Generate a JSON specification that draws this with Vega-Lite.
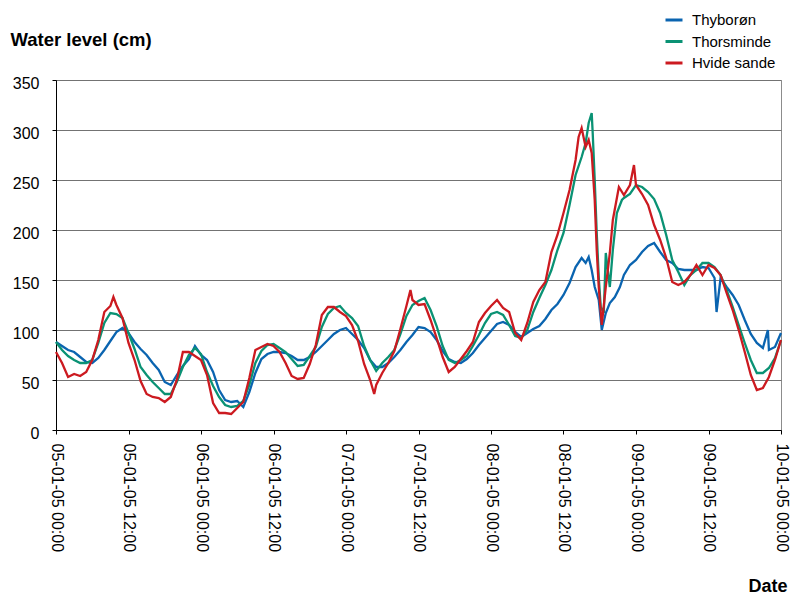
{
  "$schema": "https://vega.github.io/schema/vega-lite/v6.json",
  "width": 725,
  "height": 350,
  "autosize": {"type": "none"},
  "padding": {"left": 56, "top": 80, "right": 9, "bottom": 167},
  "background": "white",
  "config": {
    "font": "Liberation Sans",
    "view": {"stroke": "#8c8c8c", "strokeWidth": 1}
  },
  "data": {
    "values": [
      {"t": "2005-01-05T00:00", "Thyborøn": 88, "Thorsminde": 88, "Hvide sande": 78},
      {"t": "2005-01-05T01:00", "Thyborøn": 84, "Thorsminde": 80, "Hvide sande": 67},
      {"t": "2005-01-05T02:00", "Thyborøn": 80, "Thorsminde": 74, "Hvide sande": 53},
      {"t": "2005-01-05T03:00", "Thyborøn": 78, "Thorsminde": 70, "Hvide sande": 56},
      {"t": "2005-01-05T04:00", "Thyborøn": 73, "Thorsminde": 67, "Hvide sande": 54},
      {"t": "2005-01-05T05:00", "Thyborøn": 68, "Thorsminde": 67, "Hvide sande": 58},
      {"t": "2005-01-05T06:00", "Thyborøn": 67, "Thorsminde": 70, "Hvide sande": 70},
      {"t": "2005-01-05T07:00", "Thyborøn": 72, "Thorsminde": 87, "Hvide sande": 90},
      {"t": "2005-01-05T08:00", "Thyborøn": 80, "Thorsminde": 107, "Hvide sande": 118},
      {"t": "2005-01-05T09:00", "Thyborøn": 89, "Thorsminde": 117, "Hvide sande": 124},
      {"t": "2005-01-05T09:30", "Hvide sande": 133},
      {"t": "2005-01-05T10:00", "Thyborøn": 98, "Thorsminde": 116, "Hvide sande": 125},
      {"t": "2005-01-05T11:00", "Thyborøn": 102, "Thorsminde": 112, "Hvide sande": 112},
      {"t": "2005-01-05T12:00", "Thyborøn": 97, "Thorsminde": 97, "Hvide sande": 87},
      {"t": "2005-01-05T13:00", "Thyborøn": 88, "Thorsminde": 81, "Hvide sande": 70},
      {"t": "2005-01-05T14:00", "Thyborøn": 81, "Thorsminde": 63, "Hvide sande": 49},
      {"t": "2005-01-05T15:00", "Thyborøn": 75, "Thorsminde": 55, "Hvide sande": 36},
      {"t": "2005-01-05T16:00", "Thyborøn": 67, "Thorsminde": 48, "Hvide sande": 33},
      {"t": "2005-01-05T17:00", "Thyborøn": 60, "Thorsminde": 42, "Hvide sande": 32},
      {"t": "2005-01-05T18:00", "Thyborøn": 48, "Thorsminde": 36, "Hvide sande": 28},
      {"t": "2005-01-05T19:00", "Thyborøn": 45, "Thorsminde": 36, "Hvide sande": 33},
      {"t": "2005-01-05T20:00", "Thyborøn": 55, "Thorsminde": 48, "Hvide sande": 50},
      {"t": "2005-01-05T21:00", "Thyborøn": 64, "Thorsminde": 63, "Hvide sande": 78},
      {"t": "2005-01-05T22:00", "Thyborøn": 71, "Thorsminde": 75, "Hvide sande": 78},
      {"t": "2005-01-05T23:00", "Thyborøn": 84, "Thorsminde": 82, "Hvide sande": 74},
      {"t": "2005-01-06T00:00", "Thyborøn": 75, "Thorsminde": 76, "Hvide sande": 70},
      {"t": "2005-01-06T01:00", "Thyborøn": 70, "Thorsminde": 58, "Hvide sande": 55},
      {"t": "2005-01-06T02:00", "Thyborøn": 58, "Thorsminde": 44, "Hvide sande": 27},
      {"t": "2005-01-06T03:00", "Thyborøn": 40, "Thorsminde": 33, "Hvide sande": 17},
      {"t": "2005-01-06T04:00", "Thyborøn": 30, "Thorsminde": 25, "Hvide sande": 17},
      {"t": "2005-01-06T05:00", "Thyborøn": 28, "Thorsminde": 23, "Hvide sande": 16},
      {"t": "2005-01-06T06:00", "Thyborøn": 29, "Thorsminde": 24, "Hvide sande": 22},
      {"t": "2005-01-06T07:00", "Thyborøn": 23, "Thorsminde": 29, "Hvide sande": 28},
      {"t": "2005-01-06T08:00", "Thyborøn": 38, "Thorsminde": 45, "Hvide sande": 52},
      {"t": "2005-01-06T09:00", "Thyborøn": 57, "Thorsminde": 67, "Hvide sande": 80},
      {"t": "2005-01-06T10:00", "Thyborøn": 71, "Thorsminde": 79, "Hvide sande": 83},
      {"t": "2005-01-06T11:00", "Thyborøn": 76, "Thorsminde": 85, "Hvide sande": 86},
      {"t": "2005-01-06T12:00", "Thyborøn": 78, "Thorsminde": 86, "Hvide sande": 84},
      {"t": "2005-01-06T13:00", "Thyborøn": 78, "Thorsminde": 82, "Hvide sande": 78},
      {"t": "2005-01-06T14:00", "Thyborøn": 77, "Thorsminde": 78, "Hvide sande": 67},
      {"t": "2005-01-06T15:00", "Thyborøn": 74, "Thorsminde": 71, "Hvide sande": 54},
      {"t": "2005-01-06T16:00", "Thyborøn": 70, "Thorsminde": 64, "Hvide sande": 51},
      {"t": "2005-01-06T17:00", "Thyborøn": 70, "Thorsminde": 65, "Hvide sande": 52},
      {"t": "2005-01-06T18:00", "Thyborøn": 73, "Thorsminde": 74, "Hvide sande": 66},
      {"t": "2005-01-06T19:00", "Thyborøn": 78, "Thorsminde": 83, "Hvide sande": 85},
      {"t": "2005-01-06T20:00", "Thyborøn": 84, "Thorsminde": 103, "Hvide sande": 115},
      {"t": "2005-01-06T21:00", "Thyborøn": 90, "Thorsminde": 116, "Hvide sande": 123},
      {"t": "2005-01-06T22:00", "Thyborøn": 96, "Thorsminde": 122, "Hvide sande": 123},
      {"t": "2005-01-06T23:00", "Thyborøn": 100, "Thorsminde": 124, "Hvide sande": 118},
      {"t": "2005-01-07T00:00", "Thyborøn": 102, "Thorsminde": 117, "Hvide sande": 114},
      {"t": "2005-01-07T01:00", "Thyborøn": 96, "Thorsminde": 112, "Hvide sande": 105},
      {"t": "2005-01-07T02:00", "Thyborøn": 90, "Thorsminde": 104, "Hvide sande": 89},
      {"t": "2005-01-07T03:00", "Thyborøn": 82, "Thorsminde": 84, "Hvide sande": 66},
      {"t": "2005-01-07T04:00", "Thyborøn": 70, "Thorsminde": 70, "Hvide sande": 50},
      {"t": "2005-01-07T04:40", "Hvide sande": 36},
      {"t": "2005-01-07T05:00", "Thyborøn": 63, "Thorsminde": 59, "Hvide sande": 45},
      {"t": "2005-01-07T06:00", "Thyborøn": 63, "Thorsminde": 67, "Hvide sande": 57},
      {"t": "2005-01-07T07:00", "Thyborøn": 67, "Thorsminde": 73, "Hvide sande": 67},
      {"t": "2005-01-07T08:00", "Thyborøn": 73, "Thorsminde": 80, "Hvide sande": 79},
      {"t": "2005-01-07T09:00", "Thyborøn": 80, "Thorsminde": 96, "Hvide sande": 101},
      {"t": "2005-01-07T10:00", "Thyborøn": 88, "Thorsminde": 114, "Hvide sande": 124},
      {"t": "2005-01-07T10:40", "Hvide sande": 140},
      {"t": "2005-01-07T11:00", "Thyborøn": 95, "Thorsminde": 125, "Hvide sande": 130},
      {"t": "2005-01-07T12:00", "Thyborøn": 103, "Thorsminde": 129, "Hvide sande": 125},
      {"t": "2005-01-07T13:00", "Thyborøn": 102, "Thorsminde": 132, "Hvide sande": 126},
      {"t": "2005-01-07T14:00", "Thyborøn": 98, "Thorsminde": 120, "Hvide sande": 110},
      {"t": "2005-01-07T15:00", "Thyborøn": 90, "Thorsminde": 104, "Hvide sande": 92},
      {"t": "2005-01-07T16:00", "Thyborøn": 79, "Thorsminde": 84, "Hvide sande": 73},
      {"t": "2005-01-07T17:00", "Thyborøn": 71, "Thorsminde": 70, "Hvide sande": 58},
      {"t": "2005-01-07T18:00", "Thyborøn": 68, "Thorsminde": 67, "Hvide sande": 63},
      {"t": "2005-01-07T19:00", "Thyborøn": 67, "Thorsminde": 70, "Hvide sande": 71},
      {"t": "2005-01-07T20:00", "Thyborøn": 71, "Thorsminde": 74, "Hvide sande": 79},
      {"t": "2005-01-07T21:00", "Thyborøn": 77, "Thorsminde": 84, "Hvide sande": 88},
      {"t": "2005-01-07T22:00", "Thyborøn": 85, "Thorsminde": 95, "Hvide sande": 108},
      {"t": "2005-01-07T23:00", "Thyborøn": 92, "Thorsminde": 107, "Hvide sande": 117},
      {"t": "2005-01-08T00:00", "Thyborøn": 99, "Thorsminde": 116, "Hvide sande": 124},
      {"t": "2005-01-08T01:00", "Thyborøn": 106, "Thorsminde": 118, "Hvide sande": 130},
      {"t": "2005-01-08T02:00", "Thyborøn": 108, "Thorsminde": 115, "Hvide sande": 122},
      {"t": "2005-01-08T03:00", "Thyborøn": 105, "Thorsminde": 105, "Hvide sande": 118},
      {"t": "2005-01-08T04:00", "Thyborøn": 98, "Thorsminde": 94, "Hvide sande": 97},
      {"t": "2005-01-08T05:00", "Thyborøn": 93, "Thorsminde": 92, "Hvide sande": 90},
      {"t": "2005-01-08T06:00", "Thyborøn": 97, "Thorsminde": 100, "Hvide sande": 107},
      {"t": "2005-01-08T07:00", "Thyborøn": 101, "Thorsminde": 118, "Hvide sande": 128},
      {"t": "2005-01-08T08:00", "Thyborøn": 104, "Thorsminde": 132, "Hvide sande": 140},
      {"t": "2005-01-08T09:00", "Thyborøn": 111, "Thorsminde": 145, "Hvide sande": 148},
      {"t": "2005-01-08T10:00", "Thyborøn": 120, "Thorsminde": 160, "Hvide sande": 178},
      {"t": "2005-01-08T11:00", "Thyborøn": 126, "Thorsminde": 180, "Hvide sande": 195},
      {"t": "2005-01-08T12:00", "Thyborøn": 135, "Thorsminde": 197, "Hvide sande": 217},
      {"t": "2005-01-08T13:00", "Thyborøn": 147, "Thorsminde": 225, "Hvide sande": 240},
      {"t": "2005-01-08T14:00", "Thyborøn": 163, "Thorsminde": 255, "Hvide sande": 270},
      {"t": "2005-01-08T14:30", "Hvide sande": 293},
      {"t": "2005-01-08T15:00", "Thyborøn": 172, "Thorsminde": 273, "Hvide sande": 302},
      {"t": "2005-01-08T15:40", "Thyborøn": 167, "Thorsminde": 287, "Hvide sande": 283},
      {"t": "2005-01-08T16:10", "Thyborøn": 173, "Thorsminde": 307, "Hvide sande": 290},
      {"t": "2005-01-08T16:40", "Thyborøn": 160, "Thorsminde": 317, "Hvide sande": 277},
      {"t": "2005-01-08T16:50", "Thorsminde": 297},
      {"t": "2005-01-08T17:10", "Thyborøn": 143, "Thorsminde": 250, "Hvide sande": 230},
      {"t": "2005-01-08T17:30", "Thorsminde": 197, "Hvide sande": 180},
      {"t": "2005-01-08T17:50", "Thyborøn": 130, "Thorsminde": 153, "Hvide sande": 143},
      {"t": "2005-01-08T18:10", "Thorsminde": 123},
      {"t": "2005-01-08T18:20", "Thyborøn": 100, "Hvide sande": 105},
      {"t": "2005-01-08T18:40", "Thorsminde": 117},
      {"t": "2005-01-08T19:00", "Thyborøn": 117, "Thorsminde": 177, "Hvide sande": 143},
      {"t": "2005-01-08T19:40", "Thyborøn": 127, "Thorsminde": 143, "Hvide sande": 177},
      {"t": "2005-01-08T20:10", "Thorsminde": 180, "Hvide sande": 210},
      {"t": "2005-01-08T20:30", "Thyborøn": 133},
      {"t": "2005-01-08T20:50", "Thorsminde": 217},
      {"t": "2005-01-08T21:10", "Hvide sande": 243},
      {"t": "2005-01-08T21:20", "Thyborøn": 143},
      {"t": "2005-01-08T21:40", "Thorsminde": 230},
      {"t": "2005-01-08T22:00", "Thyborøn": 155, "Thorsminde": 232, "Hvide sande": 235},
      {"t": "2005-01-08T23:00", "Thyborøn": 165, "Thorsminde": 236, "Hvide sande": 245},
      {"t": "2005-01-08T23:40", "Hvide sande": 265},
      {"t": "2005-01-09T00:00", "Thyborøn": 170, "Thorsminde": 245, "Hvide sande": 245},
      {"t": "2005-01-09T01:00", "Thyborøn": 178, "Thorsminde": 243, "Hvide sande": 236},
      {"t": "2005-01-09T02:00", "Thyborøn": 184, "Thorsminde": 238, "Hvide sande": 225},
      {"t": "2005-01-09T03:00", "Thyborøn": 187, "Thorsminde": 231, "Hvide sande": 205},
      {"t": "2005-01-09T04:00", "Thyborøn": 178, "Thorsminde": 217, "Hvide sande": 190},
      {"t": "2005-01-09T05:00", "Thyborøn": 170, "Thorsminde": 195, "Hvide sande": 172},
      {"t": "2005-01-09T06:00", "Thyborøn": 167, "Thorsminde": 170, "Hvide sande": 148},
      {"t": "2005-01-09T07:00", "Thyborøn": 161, "Thorsminde": 158, "Hvide sande": 145},
      {"t": "2005-01-09T08:00", "Thyborøn": 160, "Thorsminde": 145, "Hvide sande": 148},
      {"t": "2005-01-09T09:00", "Thyborøn": 160, "Thorsminde": 155, "Hvide sande": 155},
      {"t": "2005-01-09T10:00", "Thyborøn": 160, "Thorsminde": 160, "Hvide sande": 165},
      {"t": "2005-01-09T11:00", "Thyborøn": 163, "Thorsminde": 167, "Hvide sande": 155},
      {"t": "2005-01-09T12:00", "Thyborøn": 162, "Thorsminde": 167, "Hvide sande": 165},
      {"t": "2005-01-09T13:00", "Thyborøn": 152, "Thorsminde": 163, "Hvide sande": 162},
      {"t": "2005-01-09T13:20", "Thyborøn": 118},
      {"t": "2005-01-09T14:00", "Thyborøn": 152, "Thorsminde": 155, "Hvide sande": 155},
      {"t": "2005-01-09T15:00", "Thyborøn": 143, "Thorsminde": 140, "Hvide sande": 137},
      {"t": "2005-01-09T16:00", "Thyborøn": 135, "Thorsminde": 123, "Hvide sande": 120},
      {"t": "2005-01-09T17:00", "Thyborøn": 125, "Thorsminde": 105, "Hvide sande": 100},
      {"t": "2005-01-09T18:00", "Thyborøn": 110, "Thorsminde": 87, "Hvide sande": 78},
      {"t": "2005-01-09T19:00", "Thyborøn": 96, "Thorsminde": 70, "Hvide sande": 55},
      {"t": "2005-01-09T20:00", "Thyborøn": 87, "Thorsminde": 57, "Hvide sande": 40},
      {"t": "2005-01-09T21:00", "Thyborøn": 82, "Thorsminde": 57, "Hvide sande": 42},
      {"t": "2005-01-09T21:50", "Thyborøn": 100},
      {"t": "2005-01-09T22:00", "Thyborøn": 80, "Thorsminde": 62, "Hvide sande": 53},
      {"t": "2005-01-09T23:00", "Thyborøn": 83, "Thorsminde": 72, "Hvide sande": 70},
      {"t": "2005-01-10T00:00", "Thyborøn": 97, "Thorsminde": 90, "Hvide sande": 90}
    ]
  },
  "transform": [
    {"fold": ["Thyborøn", "Thorsminde", "Hvide sande"], "as": ["station", "level"]},
    {"filter": "isValid(datum.level)"}
  ],
  "mark": {"type": "line", "strokeWidth": 2.3},
  "encoding": {
    "x": {
      "field": "t",
      "type": "temporal",
      "scale": {"domain": [{"year": 2005, "month": 1, "date": 5}, {"year": 2005, "month": 1, "date": 10}]},
      "axis": {
        "format": "%d-%m-%y %H:%M",
        "values": [
          {"year": 2005, "month": 1, "date": 5, "hours": 0},
          {"year": 2005, "month": 1, "date": 5, "hours": 12},
          {"year": 2005, "month": 1, "date": 6, "hours": 0},
          {"year": 2005, "month": 1, "date": 6, "hours": 12},
          {"year": 2005, "month": 1, "date": 7, "hours": 0},
          {"year": 2005, "month": 1, "date": 7, "hours": 12},
          {"year": 2005, "month": 1, "date": 8, "hours": 0},
          {"year": 2005, "month": 1, "date": 8, "hours": 12},
          {"year": 2005, "month": 1, "date": 9, "hours": 0},
          {"year": 2005, "month": 1, "date": 9, "hours": 12},
          {"year": 2005, "month": 1, "date": 10, "hours": 0}
        ],
        "labelAngle": 90,
        "labelFontSize": 16,
        "labelPadding": 9,
        "labelFlush": false,
        "labelOverlap": false,
        "labelColor": "black",
        "tickSize": 4,
        "tickColor": "black",
        "domainColor": "black",
        "grid": false,
        "title": "Date",
        "titleFontSize": 18,
        "titleFontWeight": "bold",
        "titleColor": "black",
        "titleAnchor": "end",
        "titleAlign": "right",
        "titleBaseline": "alphabetic",
        "titleX": 731,
        "titleY": 161
      }
    },
    "y": {
      "field": "level",
      "type": "quantitative",
      "scale": {"domain": [0, 350]},
      "axis": {
        "values": [0, 50, 100, 150, 200, 250, 300, 350],
        "labelFontSize": 16,
        "labelPadding": 13,
        "labelOffset": 3,
        "labelColor": "black",
        "tickSize": 4,
        "tickColor": "black",
        "domainColor": "black",
        "gridColor": "#737373",
        "gridOpacity": 1,
        "title": "Water level (cm)",
        "titleAngle": 0,
        "titleAlign": "left",
        "titleBaseline": "alphabetic",
        "titleX": -46,
        "titleY": -35,
        "titleFontSize": 18.5,
        "titleFontWeight": "bold",
        "titleColor": "black"
      }
    },
    "color": {
      "field": "station",
      "type": "nominal",
      "scale": {
        "domain": ["Thyborøn", "Thorsminde", "Hvide sande"],
        "range": ["#0a64b0", "#0a9274", "#cc1a20"]
      },
      "legend": {
        "orient": "none",
        "legendX": 608,
        "legendY": -70,
        "title": null,
        "padding": 0,
        "symbolType": "stroke",
        "symbolSize": 289,
        "symbolStrokeWidth": 3,
        "labelFontSize": 15,
        "labelColor": "black",
        "labelOffset": 8,
        "rowPadding": 3.5
      }
    }
  }
}
